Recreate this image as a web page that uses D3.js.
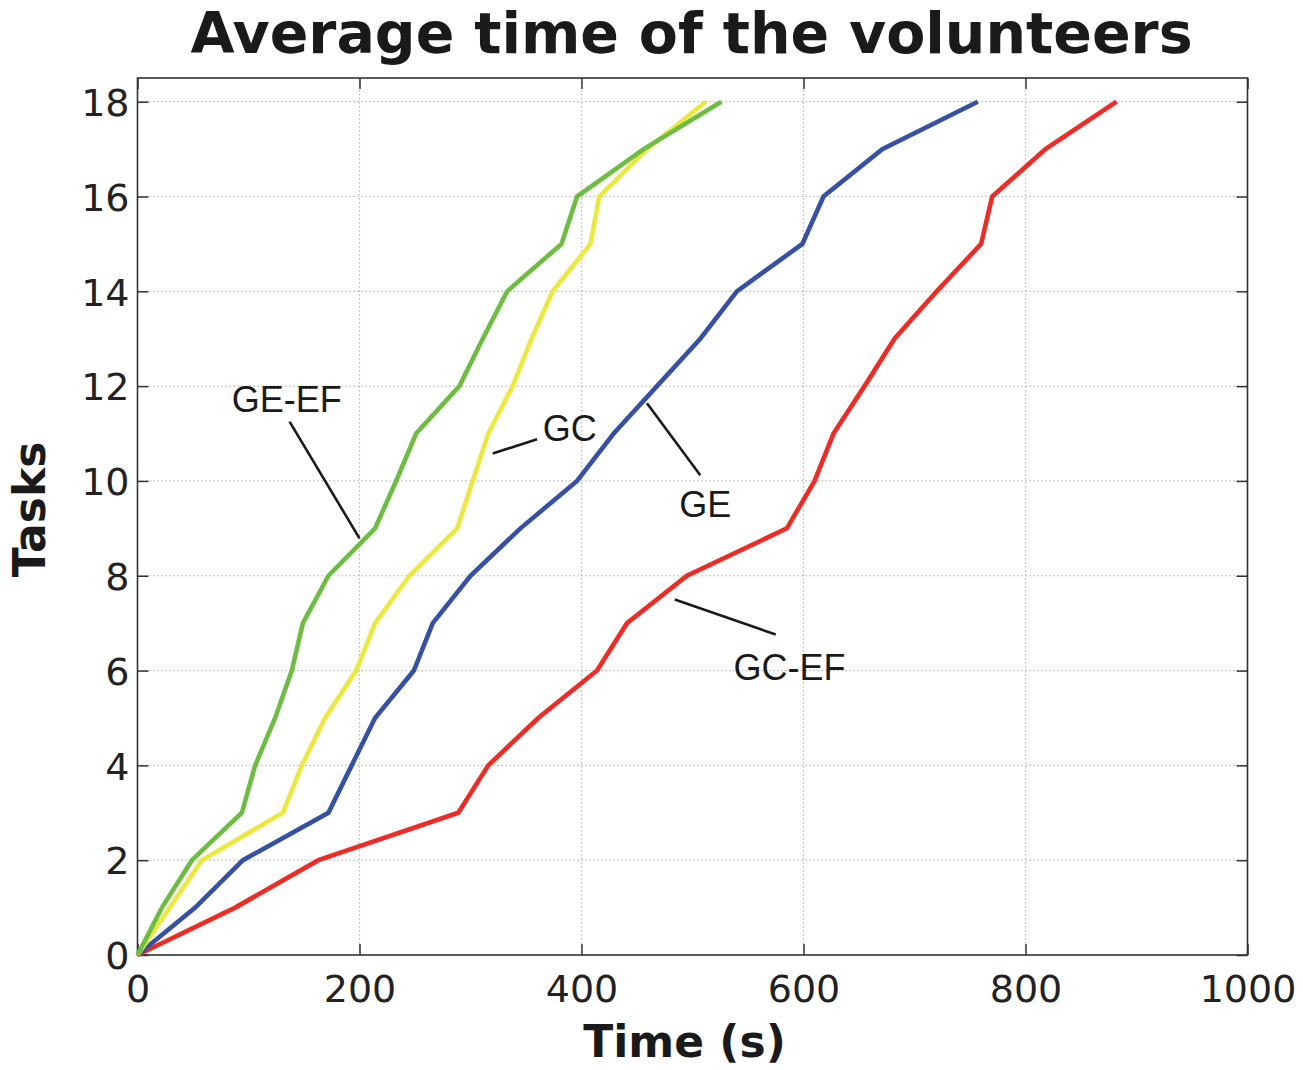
<!DOCTYPE html>
<html>
<head>
<meta charset="utf-8">
<script src="https://d3js.org/d3.v7.min.js"></script>
<style>
body { margin: 0; background: #fff; }
svg { display: block; }
</style>
</head>
<body>
<script>
var width = 1303, height = 1070;

// tasks completed (y) and average time in seconds (x) for each group
var tasks = [0, 1, 2, 3, 4, 5, 6, 7, 8, 9, 10, 11, 12, 13, 14, 15, 16, 17, 18];
var timeGEEF = [0, 22, 49, 94, 106, 124, 139, 149, 172, 214, 233, 251, 290, 311, 333, 382, 396, 456, 526];
var timeGC = [0, 29, 58, 131, 148, 169, 197, 214, 245, 288, 302, 316, 338, 355, 374, 408, 416, 459, 512];
var timeGE = [0, 52, 95, 172, 193, 214, 249, 266, 300, 345, 396, 429, 468, 507, 540, 599, 618, 671, 757];
var timeGCEF = [0, 88, 163, 289, 316, 361, 414, 441, 495, 585, 610, 627, 655, 682, 720, 760, 770, 818, 882];

var seriesNames = ["GC-EF", "GE", "GC", "GE-EF"];
var seriesColors = ["#ee2b24", "#3651a4", "#ebe840", "#6cbd42"];
var seriesTimes = [timeGCEF, timeGE, timeGC, timeGEEF];

var xTicks = [0, 200, 400, 600, 800, 1000];
var yTicks = [0, 2, 4, 6, 8, 10, 12, 14, 16, 18];

// label text, label position and leader line ends, in data units [time, tasks]
var labels = ["GE-EF", "GC", "GE", "GC-EF"];
var labelPos = [[85, 11.45], [365, 10.85], [488, 9.24], [537, 5.8]];
var leaderFrom = [[137, 11.25], [320, 10.58], [459, 11.64], [484, 7.5]];
var leaderTo = [[200, 8.79], [360, 10.88], [507, 10.12], [575, 6.76]];

var mLeft = 137.5, mRight = 1247.5, mTop = 78, mBottom = 955;

var x = d3.scaleLinear().domain([0, 1000]).range([mLeft, mRight]);
var y = d3.scaleLinear().domain([0, 18.5]).range([mBottom, mTop]);

var svg = d3.select("body").append("svg")
    .attr("width", width)
    .attr("height", height);

// grid
svg.append("g").selectAll("line")
    .data(xTicks.slice(1, -1))
    .enter().append("line")
    .attr("x1", function(d){ return x(d); })
    .attr("x2", function(d){ return x(d); })
    .attr("y1", mTop).attr("y2", mBottom)
    .attr("stroke", "#b5b5b5")
    .attr("stroke-width", 1.2)
    .attr("stroke-dasharray", "1.5,2.5");

svg.append("g").selectAll("line")
    .data(yTicks.slice(1))
    .enter().append("line")
    .attr("y1", function(d){ return y(d); })
    .attr("y2", function(d){ return y(d); })
    .attr("x1", mLeft).attr("x2", mRight)
    .attr("stroke", "#b5b5b5")
    .attr("stroke-width", 1.2)
    .attr("stroke-dasharray", "1.5,2.5");

// axes, ticks pointing inwards
var tickFont = "'DejaVu Sans', Verdana, sans-serif";

var xAxis = svg.append("g")
    .attr("transform", "translate(0," + mBottom + ")")
    .call(d3.axisBottom(x).tickValues(xTicks).tickFormat(d3.format("d")).tickSizeInner(-11).tickSizeOuter(0).tickPadding(20));
var xAxisTop = svg.append("g")
    .attr("transform", "translate(0," + mTop + ")")
    .call(d3.axisTop(x).tickValues(xTicks).tickSizeInner(-11).tickSizeOuter(0).tickFormat(""));
var yAxis = svg.append("g")
    .attr("transform", "translate(" + mLeft + ",0)")
    .call(d3.axisLeft(y).tickValues(yTicks).tickSizeInner(-11).tickSizeOuter(0).tickPadding(8));
var yAxisRight = svg.append("g")
    .attr("transform", "translate(" + mRight + ",0)")
    .call(d3.axisRight(y).tickValues(yTicks).tickSizeInner(-11).tickSizeOuter(0).tickFormat(""));

[xAxis, xAxisTop, yAxis, yAxisRight].forEach(function(a){
    a.select(".domain").remove();
    a.selectAll(".tick line").attr("stroke", "#333").attr("stroke-width", 1.5);
    a.selectAll("text")
        .attr("font-family", tickFont)
        .attr("font-size", 38)
        .attr("fill", "#222");
});
xAxis.selectAll("text").attr("dy", "0.71em");
yAxis.selectAll("text").attr("dy", "0.36em");

// plot frame
svg.append("rect")
    .attr("x", mLeft).attr("y", mTop)
    .attr("width", mRight - mLeft).attr("height", mBottom - mTop)
    .attr("fill", "none")
    .attr("stroke", "#333")
    .attr("stroke-width", 1.6);

// lines
var line = d3.line()
    .x(function(d){ return x(d[0]); })
    .y(function(d){ return y(d[1]); });

svg.append("g").selectAll("path")
    .data(seriesTimes)
    .enter().append("path")
    .attr("fill", "none")
    .attr("stroke", function(d, i){ return seriesColors[i]; })
    .attr("stroke-width", 4.6)
    .attr("stroke-linejoin", "miter")
    .attr("d", function(d){
        return line(d.map(function(t, i){ return [t, tasks[i]]; }));
    });

// annotations
var notes = svg.append("g");
notes.selectAll("line")
    .data(labels)
    .enter().append("line")
    .attr("x1", function(d, i){ return x(leaderFrom[i][0]); })
    .attr("y1", function(d, i){ return y(leaderFrom[i][1]); })
    .attr("x2", function(d, i){ return x(leaderTo[i][0]); })
    .attr("y2", function(d, i){ return y(leaderTo[i][1]); })
    .attr("stroke", "#1a1a1a")
    .attr("stroke-width", 2.6);

notes.selectAll("text")
    .data(labels)
    .enter().append("text")
    .attr("x", function(d, i){ return x(labelPos[i][0]); })
    .attr("y", function(d, i){ return y(labelPos[i][1]); })
    .attr("font-family", "'Liberation Sans', Arial, sans-serif")
    .attr("font-size", 36)
    .attr("fill", "#1a1a1a")
    .text(function(d){ return d; });

// titles
svg.append("text")
    .attr("x", (mLeft + mRight) / 2 - 1)
    .attr("y", 53)
    .attr("text-anchor", "middle")
    .attr("font-family", "'DejaVu Sans', Verdana, sans-serif")
    .attr("font-weight", "bold")
    .attr("font-size", 57)
    .attr("fill", "#1a1a1a")
    .text("Average time of the volunteers");

svg.append("text")
    .attr("x", (mLeft + mRight) / 2 - 8)
    .attr("y", 1057)
    .attr("text-anchor", "middle")
    .attr("font-family", "'DejaVu Sans', Verdana, sans-serif")
    .attr("font-weight", "bold")
    .attr("font-size", 44)
    .attr("fill", "#1a1a1a")
    .text("Time (s)");

svg.append("text")
    .attr("transform", "translate(45," + ((mTop + mBottom) / 2 - 7) + ") rotate(-90)")
    .attr("text-anchor", "middle")
    .attr("font-family", "'DejaVu Sans', Verdana, sans-serif")
    .attr("font-weight", "bold")
    .attr("font-size", 44)
    .attr("fill", "#1a1a1a")
    .text("Tasks");
</script>
</body>
</html>
